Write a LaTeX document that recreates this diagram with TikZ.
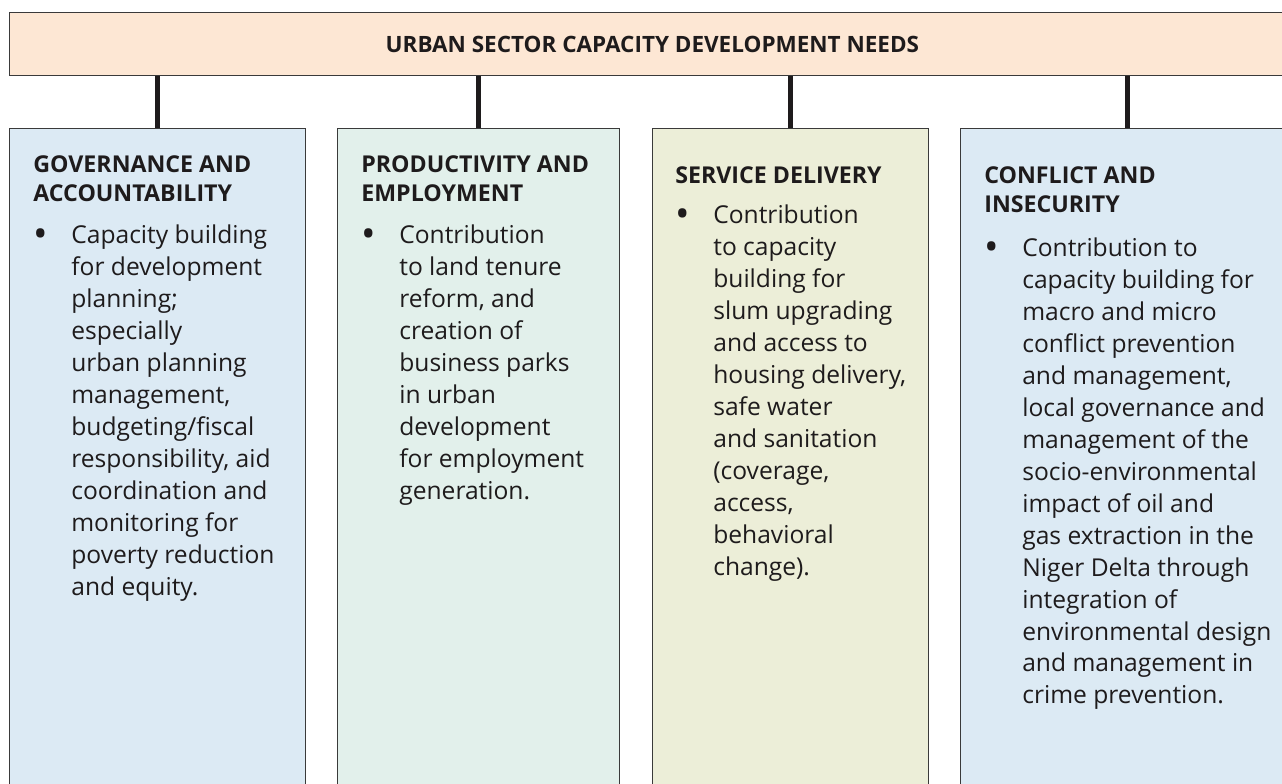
\documentclass[tikz,border=0pt]{standalone}
\usepackage{fontspec}
\setmainfont{Open Sans}
\usetikzlibrary{positioning,calc}

\definecolor{needsfill}{HTML}{FDE7D4}
\definecolor{govfill}{HTML}{DCEAF4}
\definecolor{prodfill}{HTML}{E2F0EB}
\definecolor{servfill}{HTML}{ECEED8}
\definecolor{boxline}{HTML}{3A3A3A}
\definecolor{ink}{HTML}{1E1B1C}

\begin{document}
\begin{tikzpicture}[x=0.02cm, y=-0.02cm,
	colbox/.style={rectangle, draw=boxline, line width=0.6pt, minimum height=13.4cm, inner sep=0pt},
	headtxt/.style={align=left, inner sep=0pt, text=ink, font=\fontsize{13.2}{16.8}\selectfont\bfseries},
	bodytxt/.style={align=left, inner sep=0pt, text=ink, font=\fontsize{14}{18.2}\selectfont},
	dottxt/.style={inner sep=0pt, text=ink, anchor=base west, font=\fontsize{22}{22}\selectfont},
	stem/.style={draw=ink, line width=2.7pt}]
	\clip (0,0) rectangle (1282,784);
	\node[rectangle, draw=boxline, line width=0.6pt, fill=needsfill, minimum width=25.72cm, minimum height=1.26cm, anchor=north west, inner sep=0pt, text=ink, font=\fontsize{12.8}{15}\selectfont\bfseries] (needs) at (9,12) {URBAN SECTOR CAPACITY DEVELOPMENT NEEDS};
	\node[colbox, fill=govfill, minimum width=5.92cm, anchor=north west] (gov) at (9,128) {};
	\node[colbox, fill=prodfill, minimum width=5.64cm, right=0.62cm of gov] (prod) {};
	\node[colbox, fill=servfill, minimum width=5.52cm, right=0.64cm of prod] (serv) {};
	\node[colbox, fill=govfill, minimum width=6.68cm, right=0.62cm of serv] (conf) {};
	\draw[stem] (needs.south -| gov.north) -- (gov.north);
	\draw[stem] (needs.south -| prod.north) -- (prod.north);
	\draw[stem] (needs.south -| serv.north) -- (serv.north);
	\draw[stem] (needs.south -| conf.north) -- (conf.north);

	\node[headtxt, below right=0.54cm and 0.48cm of gov.north west] (gov-head) {GOVERNANCE AND\\ACCOUNTABILITY};
	\node[bodytxt, below right=0.44cm and 0.76cm of gov-head.south west] (gov-body) {Capacity building\\for development\\planning;\\especially\\urban planning\\management,\\budgeting/fiscal\\responsibility, aid\\coordination and\\monitoring for\\poverty reduction\\and equity.};
	\node[dottxt] (gov-dot) at ($(gov-body.north west)+(-38,23)$) {\textbullet};

	\node[headtxt, below right=0.54cm and 0.48cm of prod.north west] (prod-head) {PRODUCTIVITY AND\\EMPLOYMENT};
	\node[bodytxt, below right=0.44cm and 0.76cm of prod-head.south west] (prod-body) {Contribution\\to land tenure\\reform, and\\creation of\\business parks\\in urban\\development\\for employment\\generation.};
	\node[dottxt] (prod-dot) at ($(prod-body.north west)+(-38,23)$) {\textbullet};

	\node[headtxt, below right=0.76cm and 0.46cm of serv.north west] (serv-head) {SERVICE DELIVERY};
	\node[bodytxt, below right=0.42cm and 0.76cm of serv-head.south west] (serv-body) {Contribution\\to capacity\\building for\\slum upgrading\\and access to\\housing delivery,\\safe water\\and sanitation\\(coverage,\\access,\\behavioral\\change).};
	\node[dottxt] (serv-dot) at ($(serv-body.north west)+(-38,23)$) {\textbullet};

	\node[headtxt, below right=0.76cm and 0.48cm of conf.north west] (conf-head) {CONFLICT AND\\INSECURITY};
	\node[bodytxt, below right=0.48cm and 0.76cm of conf-head.south west] (conf-body) {Contribution to\\capacity building for\\macro and micro\\conflict prevention\\and management,\\local governance and\\management of the\\socio-environmental\\impact of oil and\\gas extraction in the\\Niger Delta through\\integration of\\environmental design\\and management in\\crime prevention.};
	\node[dottxt] (conf-dot) at ($(conf-body.north west)+(-38,23)$) {\textbullet};
\end{tikzpicture}
\end{document}
